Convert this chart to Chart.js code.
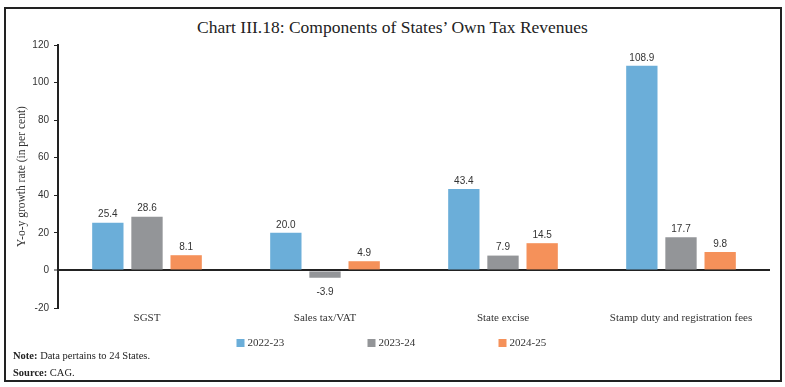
<!DOCTYPE html>
<html>
<head>
<meta charset="utf-8">
<script src="https://cdn.jsdelivr.net/npm/chart.js@4.4.0/dist/chart.umd.min.js"></script>
<style>
  body { margin: 0; background: #fff; }
  #wrap { position: relative; width: 785px; height: 387px; }
  #frame { position: absolute; left: 4px; top: 7px; width: 774px; height: 371px; border: 2px solid #222; }
  #title { position: absolute; left: 0; width: 785px; top: 17px; text-align: center;
           font-family: "Liberation Serif", serif; font-size: 17.5px; color: #222; }
  #notes { position: absolute; left: 13px; top: 347px; font-family: "Liberation Serif", serif;
           font-size: 10.5px; color: #222; line-height: 17px; }
  canvas { position: absolute; left: 0; top: 0; }
</style>
</head>
<body>
<div id="wrap">
  <div id="frame"></div>
  <div id="title">Chart III.18: Components of States’ Own Tax Revenues</div>
  <canvas id="myChart" width="785" height="387"></canvas>
  <div id="notes"><b>Note:</b> Data pertains to 24 States.<br><b>Source:</b> CAG.</div>
</div>
<script>
var categories = ['SGST', 'Sales tax/VAT', 'State excise', 'Stamp duty and registration fees'];
var years = ['2022-23', '2023-24', '2024-25'];
var values2223 = [25.4, 20.0, 43.4, 108.9];
var values2324 = [28.6, -3.9, 7.9, 17.7];
var values2425 = [8.1, 4.9, 14.5, 9.8];
var colors = ['#6baed9', '#939598', '#f5915a'];

var valueFont = '10px "Liberation Sans Narrow", "Liberation Sans", sans-serif';

// value labels above (or below) each bar
var barLabels = {
  id: 'barLabels',
  afterDatasetsDraw: function(chart) {
    var ctx = chart.ctx;
    ctx.save();
    ctx.font = valueFont;
    ctx.fillStyle = '#333';
    ctx.textAlign = 'center';
    chart.data.datasets.forEach(function(ds, i) {
      var meta = chart.getDatasetMeta(i);
      meta.data.forEach(function(bar, j) {
        var v = ds.data[j];
        if (v >= 0) {
          ctx.textBaseline = 'bottom';
          ctx.fillText(v.toFixed(1), bar.x, bar.y - 3);
        } else {
          ctx.textBaseline = 'top';
          ctx.fillText(v.toFixed(1), bar.x, bar.y + 9);
        }
      });
    });
    ctx.restore();
  }
};

// legend row drawn at the bottom, centred
var bottomLegend = {
  id: 'bottomLegend',
  afterDraw: function(chart) {
    var ctx = chart.ctx;
    ctx.save();
    ctx.font = '11px "Liberation Serif", serif';
    ctx.textBaseline = 'middle';
    ctx.textAlign = 'left';
    var step = 131;
    var n = chart.data.datasets.length;
    var startX = chart.width / 2 - (step * (n - 1) + 50) / 2;
    var y = 343;
    chart.data.datasets.forEach(function(ds, i) {
      var x = startX + i * step;
      ctx.fillStyle = ds.backgroundColor;
      ctx.fillRect(x, y - 4, 8, 8);
      ctx.fillStyle = '#333';
      ctx.fillText(ds.label, x + 11, y);
    });
    ctx.restore();
  }
};

var ctx = document.getElementById('myChart').getContext('2d');
var myChart = new Chart(ctx, {
  type: 'bar',
  data: {
    labels: categories,
    datasets: [
      { label: years[0], data: values2223, backgroundColor: colors[0] },
      { label: years[1], data: values2324, backgroundColor: colors[1] },
      { label: years[2], data: values2425, backgroundColor: colors[2] }
    ]
  },
  options: {
    responsive: false,
    animation: false,
    categoryPercentage: 0.66,
    barPercentage: 0.8,
    layout: { padding: { top: 45, left: 8, right: 15, bottom: 57 } },
    plugins: {
      legend: { display: false },
      tooltip: { enabled: false }
    },
    scales: {
      x: {
        grid: { display: false, tickLength: 0 },
        border: { display: false },
        ticks: {
          color: '#333',
          padding: 4,
          font: { family: '"Liberation Serif", serif', size: 11 }
        },
        afterFit: function(scale) { scale.height = 22; }
      },
      y: {
        min: -20,
        max: 120,
        ticks: {
          stepSize: 20,
          color: '#333',
          padding: 5,
          font: { family: '"Liberation Sans Narrow", "Liberation Sans", sans-serif', size: 10 }
        },
        grid: {
          drawOnChartArea: true,
          tickLength: 4,
          tickColor: '#222',
          tickWidth: 1,
          color: function(c) { return c.tick && c.tick.value === 0 ? '#222' : 'rgba(0,0,0,0)'; },
          lineWidth: function(c) { return c.tick && c.tick.value === 0 ? 2 : 1; }
        },
        border: { display: true, color: '#222', width: 2 },
        title: {
          display: true,
          text: 'Y-o-y growth rate (in per cent)',
          color: '#333',
          padding: { top: 7, bottom: 0 },
          font: { family: '"Liberation Serif", serif', size: 11.5 }
        },
        afterFit: function(scale) { scale.width = 50; }
      }
    }
  },
  plugins: [barLabels, bottomLegend]
});
</script>
</body>
</html>
